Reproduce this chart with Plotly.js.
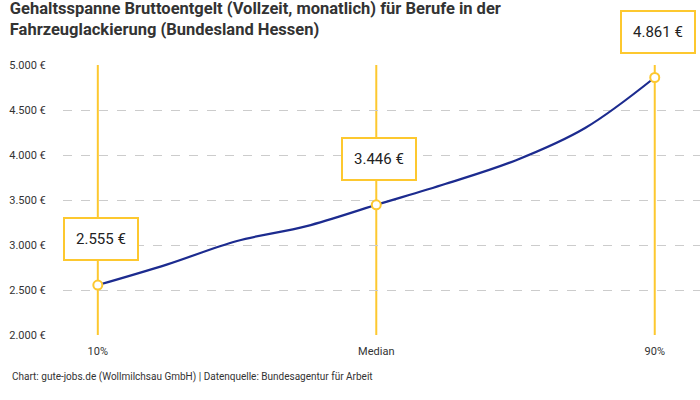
<!DOCTYPE html>
<html>
<head>
<meta charset="utf-8">
<script src="https://cdn.plot.ly/plotly-3.0.1.min.js"></script>
<style>html,body{margin:0;padding:0;background:#fff;}#chart{width:700px;height:400px;}</style>
</head>
<body>
<div id="chart"></div>
<script>
// Percentile positions and monthly gross salary (EUR)
const percentiles = [10, 20, 30, 40, 50, 60, 70, 80, 90];
const salaries = [2555, 2785, 3045, 3210, 3446, 3680, 3940, 4300, 4861];

// Highlighted points
const keyPercentiles = [10, 50, 90];
const keySalaries = [2555, 3446, 4861];
const keyLabels = ['2.555 €', '3.446 €', '4.861 €'];
const xTickLabels = ['10%', 'Median', '90%'];

// Y axis ticks
const yTickVals = [2000, 2500, 3000, 3500, 4000, 4500, 5000];
const yTickText = ['2.000 €', '2.500 €', '3.000 €', '3.500 €', '4.000 €', '4.500 €', '5.000 €'];

const yellow = '#fdc82f';
const navy = '#1c2b8f';
const font = 'Roboto, "Noto Sans", sans-serif';

const traces = [
  {
    x: percentiles, y: salaries, type: 'scatter', mode: 'lines',
    line: {color: navy, width: 2.2, shape: 'spline', smoothing: 1},
    hoverinfo: 'skip', showlegend: false
  },
  {
    x: keyPercentiles, y: keySalaries, type: 'scatter', mode: 'markers',
    marker: {size: 9, color: '#ffffff', line: {color: yellow, width: 2}},
    hoverinfo: 'skip', showlegend: false
  }
];

const shapes = keyPercentiles.map(p => ({
  type: 'line', xref: 'x', yref: 'paper', x0: p, x1: p, y0: 0, y1: 1,
  line: {color: yellow, width: 2}, layer: 'between'
}));

const annotations = keyPercentiles.map((p, i) => ({
  x: p, y: keySalaries[i], xref: 'x', yref: 'y',
  text: keyLabels[i], showarrow: false,
  xshift: 3, yshift: 46,
  font: {family: font, size: 15, color: '#222'},
  bgcolor: '#ffffff', bordercolor: yellow, borderwidth: 2, borderpad: 11
}));

annotations.push({
  xref: 'paper', yref: 'paper', x: -0.0832, y: -0.156,
  xanchor: 'left', yanchor: 'middle', showarrow: false,
  text: 'Chart: gute-jobs.de (Wollmilchsau GmbH) | Datenquelle: Bundesagentur für Arbeit',
  font: {family: font, size: 10, color: '#333'}
});

const layout = {
  width: 700, height: 400,
  margin: {l: 63, r: 0, t: 65, b: 65},
  paper_bgcolor: '#ffffff', plot_bgcolor: '#ffffff',
  title: {
    text: 'Gehaltsspanne Bruttoentgelt (Vollzeit, monatlich) für Berufe in der<br>Fahrzeuglackierung (Bundesland Hessen)',
    x: 0.014, xanchor: 'left', xref: 'container',
    y: 0.965, yanchor: 'top', yref: 'container',
    font: {family: font, size: 16.5, color: '#333', weight: 'bold'}
  },
  xaxis: {
    range: [5, 96.5], tickvals: keyPercentiles, ticktext: xTickLabels,
    showgrid: false, zeroline: false, showline: false,
    ticks: 'outside', ticklen: 6, tickcolor: 'rgba(0,0,0,0)',
    tickfont: {family: font, size: 11, color: '#333'}, fixedrange: true
  },
  yaxis: {
    range: [2000, 5000], tickvals: yTickVals, ticktext: yTickText,
    showgrid: true, gridcolor: '#cccccc', griddash: 'dash', gridwidth: 1,
    zeroline: false, showline: false,
    ticks: 'outside', ticklen: 14, tickcolor: 'rgba(0,0,0,0)',
    tickfont: {family: font, size: 11, color: '#333'}, fixedrange: true
  },
  shapes: shapes,
  annotations: annotations
};

Plotly.newPlot('chart', traces, layout, {displayModeBar: false, staticPlot: true});
</script>
</body>
</html>
